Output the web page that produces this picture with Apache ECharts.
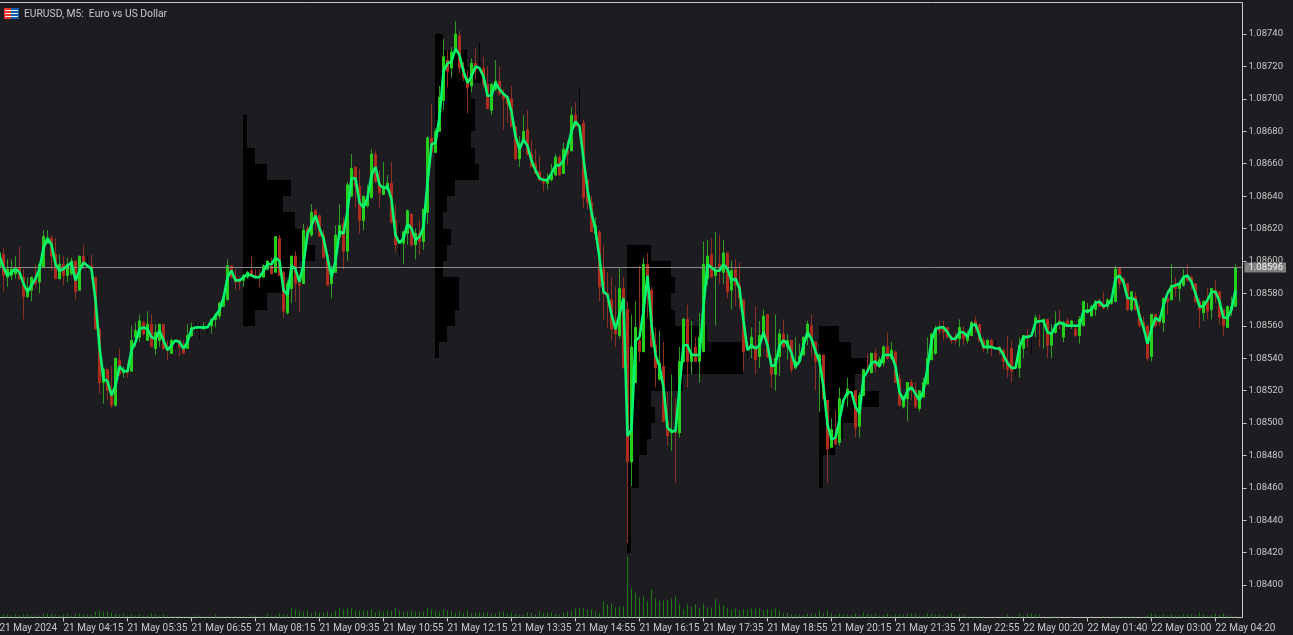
<!DOCTYPE html>
<html><head><meta charset="utf-8">
<style>html,body{margin:0;padding:0;background:#1c1c21;overflow:hidden}#c{width:1293px;height:635px}</style>
<script src="https://cdn.jsdelivr.net/npm/echarts@6/dist/echarts.min.js"></script>
</head><body><div id="c"></div><script>
// prices are stored as points above 1.00000 ; each row is [open, close, high, low]
const ohlc = [
[8596,8605,8606,8594],
[8604,8591,8608,8581],[8590,8595,8601,8584],[8591,8595,8601,8588],[8592,8595,8603,8589],[8596,8589,8609,8588],[8590,8578,8595,8564],[8578,8583,8590,8577],[8582,8590,8590,8575],[8589,8586,8598,8583],[8587,8598,8599,8580],
[8596,8615,8619,8596],[8611,8614,8619,8611],[8614,8603,8616,8594],[8604,8589,8614,8589],[8589,8598,8604,8589],[8598,8591,8603,8585],[8591,8598,8602,8587],[8592,8600,8602,8591],[8600,8581,8600,8576],[8582,8603,8603,8582],
[8603,8598,8610,8595],[8597,8597,8603,8594],[8597,8595,8604,8589],[8590,8558,8590,8558],[8558,8525,8558,8518],[8525,8533,8534,8512],[8533,8520,8533,8514],[8520,8511,8535,8509],[8511,8540,8540,8510],[8539,8530,8546,8529],
[8531,8533,8535,8528],[8532,8531,8537,8528],[8532,8551,8560,8532],[8553,8557,8562,8547],[8553,8563,8567,8550],[8562,8555,8563,8554],[8551,8561,8569,8551],[8561,8547,8567,8547],[8546,8556,8561,8542],[8551,8561,8561,8547],
[8561,8546,8561,8545],[8547,8545,8551,8539],[8543,8551,8552,8543],[8549,8549,8554,8546],[8551,8547,8551,8541],[8546,8543,8551,8543],[8546,8554,8561,8546],[8554,8559,8562,8553],[8559,8559,8562,8556],[8559,8559,8562,8552],
[8558,8559,8562,8558],[8559,8559,8560,8555],[8560,8564,8564,8555],[8564,8567,8568,8559],[8566,8574,8575,8564],[8572,8578,8578,8572],[8576,8597,8601,8576],[8597,8590,8597,8590],[8590,8587,8595,8582],[8588,8587,8590,8582],
[8588,8591,8592,8584],[8590,8593,8594,8589],[8594,8591,8603,8590],[8591,8590,8595,8590],[8591,8590,8595,8584],[8590,8597,8598,8590],[8595,8600,8600,8594],[8597,8592,8602,8592],[8593,8615,8615,8593],[8614,8591,8616,8591],
[8593,8569,8594,8565],[8568,8586,8588,8567],[8583,8603,8603,8574],[8603,8586,8606,8575],[8586,8585,8592,8568],[8586,8619,8623,8586],[8620,8614,8622,8614],[8616,8630,8635,8615],[8631,8624,8632,8619],[8628,8615,8628,8615],
[8616,8602,8619,8602],[8604,8585,8604,8585],[8586,8595,8597,8577],[8593,8616,8622,8593],[8615,8622,8635,8615],[8623,8606,8627,8595],[8606,8647,8649,8600],[8640,8657,8666,8640],[8658,8646,8658,8633],[8646,8625,8657,8617],
[8625,8640,8640,8619],[8634,8640,8647,8633],[8639,8666,8669,8639],[8666,8649,8668,8648],[8648,8642,8656,8633],[8641,8645,8661,8641],[8644,8648,8653,8644],[8648,8624,8661,8623],[8625,8610,8635,8605],[8613,8613,8623,8603],
[8611,8618,8618,8598],[8617,8631,8632,8610],[8629,8610,8629,8609],[8610,8617,8620,8601],[8617,8612,8625,8604],[8612,8632,8632,8607],[8630,8676,8677,8623],[8676,8667,8697,8667],[8667,8680,8682,8667],[8680,8701,8708,8680],
[8699,8726,8737,8693],[8724,8717,8730,8707],[8719,8729,8732,8713],[8729,8740,8748,8729],[8739,8719,8742,8716],[8719,8713,8723,8711],[8711,8707,8718,8691],[8708,8722,8725,8704],[8722,8718,8731,8712],[8722,8722,8735,8720],
[8719,8709,8726,8707],[8709,8694,8720,8694],[8693,8709,8710,8690],[8706,8711,8724,8705],[8711,8703,8720,8702],[8703,8700,8706,8681],[8701,8697,8702,8685],[8700,8683,8708,8683],[8683,8663,8683,8662],[8663,8672,8677,8658],
[8673,8680,8690,8673],[8681,8666,8693,8665],[8666,8658,8675,8658],[8660,8654,8669,8654],[8655,8650,8665,8649],[8650,8648,8652,8643],[8648,8650,8654,8644],[8650,8653,8660,8649],[8653,8664,8666,8653],[8664,8653,8665,8653],
[8654,8669,8673,8654],[8668,8666,8674,8659],[8668,8690,8695,8668],[8690,8683,8698,8683],[8686,8686,8706,8685],[8685,8639,8687,8633],[8650,8636,8650,8632],[8636,8618,8640,8618],[8617,8622,8627,8613],[8618,8584,8619,8575],
[8595,8580,8610,8564],[8580,8578,8593,8559],[8576,8558,8590,8551],[8559,8555,8584,8547],[8554,8583,8596,8552],[8583,8534,8590,8534],[8570,8476,8575,8426],[8476,8547,8567,8461],[8525,8559,8575,8525],[8551,8544,8597,8538],
[8544,8598,8602,8544],[8598,8581,8605,8565],[8582,8547,8584,8547],[8548,8534,8559,8522],[8527,8537,8557,8526],[8535,8501,8550,8501],[8501,8492,8519,8486],[8494,8495,8530,8483],[8495,8494,8515,8463],[8494,8538,8547,8491],
[8538,8564,8565,8537],[8564,8538,8573,8522],[8538,8543,8563,8530],[8547,8538,8553,8538],[8538,8553,8568,8525],[8544,8598,8612,8544],[8589,8603,8613,8585],[8604,8590,8614,8590],[8591,8594,8618,8560],[8598,8594,8616,8586],
[8593,8605,8613,8586],[8605,8581,8605,8577],[8582,8594,8600,8570],[8595,8585,8601,8572],[8585,8577,8599,8570],[8576,8544,8576,8532],[8545,8545,8549,8540],[8546,8553,8559,8540],[8546,8539,8572,8530],[8541,8554,8563,8534],
[8553,8566,8570,8553],[8567,8541,8567,8540],[8535,8530,8541,8522],[8530,8540,8567,8520],[8541,8555,8558,8529],[8555,8547,8564,8547],[8547,8551,8555,8539],[8551,8533,8551,8531],[8534,8538,8553,8533],[8538,8541,8549,8538],
[8542,8553,8553,8542],[8553,8561,8563,8548],[8560,8553,8567,8541],[8550,8538,8550,8520],[8538,8542,8543,8507],[8542,8515,8542,8515],[8514,8484,8514,8463],[8485,8496,8503,8485],[8491,8487,8508,8487],[8488,8515,8522,8486],
[8510,8510,8516,8502],[8517,8521,8528,8510],[8521,8521,8533,8518],[8520,8497,8520,8491],[8498,8517,8519,8491],[8517,8533,8533,8517],[8533,8532,8543,8532],[8531,8543,8543,8531],[8543,8535,8546,8531],[8535,8539,8541,8534],
[8537,8547,8548,8535],[8547,8540,8556,8539],[8540,8545,8550,8539],[8544,8525,8544,8525],[8527,8511,8530,8511],[8510,8515,8517,8509],[8515,8525,8525,8501],[8525,8520,8527,8514],[8520,8510,8525,8509],[8509,8520,8520,8507],
[8516,8525,8528,8516],[8524,8540,8553,8524],[8539,8555,8555,8539],[8543,8558,8560,8542],[8559,8557,8563,8555],[8558,8556,8563,8551],[8559,8553,8559,8552],[8553,8551,8554,8549],[8553,8551,8556,8549],[8552,8559,8564,8547],
[8556,8552,8560,8548],[8551,8555,8557,8549],[8554,8562,8563,8554],[8563,8560,8566,8556],[8561,8551,8561,8550],[8551,8546,8553,8544],[8546,8551,8552,8543],[8551,8546,8552,8541],[8547,8547,8551,8544],[8547,8545,8547,8542],
[8545,8538,8546,8533],[8538,8533,8554,8528],[8546,8532,8551,8525],[8533,8533,8535,8529],[8534,8548,8553,8528],[8546,8554,8554,8540],[8554,8553,8558,8547],[8554,8554,8554,8543],[8562,8565,8567,8553],[8563,8562,8567,8547],
[8562,8564,8564,8546],[8564,8548,8564,8540],[8548,8556,8561,8540],[8556,8561,8569,8555],[8563,8561,8570,8558],[8553,8562,8563,8550],[8563,8560,8565,8559],[8560,8563,8563,8558],[8558,8554,8561,8553],[8554,8564,8566,8549],
[8560,8575,8575,8560],[8568,8570,8574,8568],[8566,8572,8573,8566],[8570,8575,8576,8566],[8575,8572,8577,8572],[8573,8571,8581,8570],[8572,8576,8577,8570],[8574,8576,8578,8573],[8575,8595,8597,8575],[8596,8586,8596,8583],
[8589,8586,8590,8585],[8586,8570,8586,8569],[8570,8581,8581,8569],[8578,8570,8581,8569],[8567,8560,8573,8559],[8562,8558,8566,8558],[8560,8540,8560,8538],[8541,8567,8567,8538],[8567,8560,8567,8559],[8565,8562,8565,8560],
[8562,8577,8577,8556],[8577,8575,8582,8567],[8576,8585,8598,8576],[8586,8583,8590,8578],[8583,8586,8586,8575],[8585,8590,8595,8584],[8591,8588,8598,8588],[8590,8586,8591,8582],[8586,8575,8586,8574],[8575,8570,8577,8559],
[8568,8575,8576,8563],[8575,8569,8583,8564],[8570,8583,8583,8564],[8582,8579,8588,8574],[8581,8565,8581,8561],[8570,8560,8570,8554],[8559,8572,8572,8559],[8570,8572,8578,8566],[8572,8596,8598,8572]
];
const smoothed = [
8603,
8596,8591,8593,8595,8593,8586,8581,8585,8589,8595,
8608,8614,8610,8598,8594,8595,8597,8599,8588,8594,
8599,8597,8595,8576,8547,8527,8526,8517,8523,8535,
8532,8532,8545,8550,8558,8559,8558,8553,8552,8557,
8551,8545,8548,8551,8550,8546,8550,8558,8559,8559,
8559,8559,8563,8566,8570,8577,8590,8594,8588,8588,
8590,8592,8591,8590,8590,8594,8598,8598,8602,8600,
8582,8579,8597,8595,8587,8598,8617,8622,8628,8620,
8614,8602,8590,8600,8618,8617,8631,8651,8651,8636,
8633,8639,8653,8658,8647,8645,8646,8638,8616,8611,
8614,8623,8620,8613,8615,8621,8648,8672,8673,8689,
8717,8722,8723,8731,8727,8717,8710,8714,8720,8719,
8714,8702,8702,8710,8706,8703,8701,8692,8677,8669,
8675,8671,8662,8656,8651,8650,8650,8654,8659,8659,
8662,8670,8680,8686,8683,8663,8644,8630,8619,8602,
8581,8579,8567,8558,8567,8577,8492,8496,8551,8553,
8569,8591,8561,8542,8535,8522,8497,8495,8495,8522,
8548,8548,8542,8542,8542,8572,8598,8596,8594,8594,
8598,8595,8588,8589,8583,8563,8545,8548,8546,8548,
8556,8548,8535,8536,8548,8551,8549,8543,8535,8538,
8548,8556,8552,8544,8538,8522,8499,8490,8491,8502,
8514,8519,8519,8510,8506,8528,8532,8537,8538,8535,
8542,8542,8542,8535,8519,8514,8520,8522,8518,8514,
8520,8534,8551,8558,8559,8559,8556,8552,8552,8556,
8556,8553,8560,8561,8554,8547,8547,8547,8546,8546,
8542,8537,8534,8534,8547,8553,8553,8554,8562,8563,
8563,8556,8555,8560,8562,8561,8560,8560,8560,8560,
8569,8569,8570,8574,8575,8572,8573,8576,8589,8591,
8587,8577,8577,8576,8566,8559,8549,8558,8565,8563,
8573,8580,8584,8585,8586,8590,8591,8587,8580,8572,
8572,8576,8581,8581,8575,8565,8565,8570,8582
];
const tickVolume = [
3,
3,3,2,3,2,3,3,2,2,2,4,4,4,3,2,3,4,2,4,4,
3,3,3,6,7,6,6,5,4,3,4,2,3,2,3,2,2,4,3,2,
3,2,2,1,2,1,1,1,2,2,1,1,1,3,2,1,2,1,2,1,2,1,2,2,1,
1,4,2,2,4,3,3,10,8,7,6,7,4,6,5,5,6,5,7,10,8,9,9,7,7,7,7,8,5,7,6,7,7,10,7,6,6,7,6,6,6,10,8,7,6,8,7,7,5,6,4,7,4,5,5,5,5,4,4,6,
6,4,5,4,3,3,5,5,3,6,4,5,5,4,3,5,6,7,9,10,9,8,8,6,4,16,13,14,10,11,11,
61,30,25,20,21,16,28,19,17,17,17,19,21,14,8,13,11,13,9,14,10,10,19,14,12,9,8,9,7,8,8,9,9,9,7,8,8,9,7,4,5,3,3,3,3,4,4,4,7,4,7,4,3,4,3,3,3,4,2,5,4,3,4,2,3,4,2,3,
3,3,4,4,4,2,2,4,4,3,3,2,2,4,2,3,3,1,1,1,1,2,0,1,1,0,1,3,1,1,4,2,4,4,3,3,1,0,1,2,1,0,0,1,0,0,0,1,2,0,0,2,1,0,2,1,1,1,1,1,0,1,2,4,3,2,3,2,3,2,2,3,3,3,2,5,3,2,3,4,3,4,2,2,2
];
// one market profile per session: first bar, top price level, bar count per 10-point level
const profileFirstBar = [61, 109, 157, 205];
const profileTopLevel = [8690, 8740, 8610, 8560];
const profileCounts = [
 [1,1,3,6,12,10,13,15,18,14,10,6,3],
 [2,8,12,9,10,10,9,10,11,5,3,2,4,3,2,6,6,5,3,1],
 [6,11,12,11,12,20,29,29,14,6,7,6,5,3,3,1,1,1,1],
 [5,8,12,9,15,9,6,4,1,1]
];
const tickLabels = ['21 May 2024','21 May 04:15','21 May 05:35','21 May 06:55','21 May 08:15','21 May 09:35','21 May 10:55','21 May 12:15','21 May 13:35','21 May 14:55','21 May 16:15','21 May 17:35','21 May 18:55','21 May 20:15','21 May 21:35','21 May 22:55','22 May 00:20','22 May 01:40','22 May 03:00','22 May 04:20'];
const lastPrice = 1.08596;
const title = 'EURUSD, M5:  Euro vs US Dollar';

const price = v => +(1 + v / 1e5).toFixed(5);
const slots = 311;
const categories = Array.from({length: slots}, (_, n) => n % 16 === 0 && tickLabels[n / 16] ? tickLabels[n / 16] : '');
const UP = '#26d01a', DOWN = '#ae2d1d', UPW = '#2f9a24', DOWNW = '#8c3022';
const dojiStyle = {color:'#000',color0:'#000',borderColor:'#000',borderColor0:'#000',borderColorDoji:'#000'};
const wicks = ohlc.map(r => {
  const value = [price(r[0]), price(r[1]), price(r[3]), price(r[2])];
  return r[0] === r[1] ? {value, itemStyle: dojiStyle} : value;
});
const bodies = ohlc.map(r => {
  const hi = Math.max(r[0], r[1]), lo = Math.min(r[0], r[1]);
  const value = [price(r[0]), price(r[1]), price(lo), price(hi)];
  return r[0] === r[1] ? {value, itemStyle: dojiStyle} : value;
});
const profileRows = [];
profileCounts.forEach((counts, p) => counts.forEach((c, k) => {
  profileRows.push([profileFirstBar[p], price(profileTopLevel[p] - 10 * k), price(profileTopLevel[p] - 10 * (k + 1)), c]);
}));

const FONT = 'Roboto,sans-serif';
const chart = echarts.init(document.getElementById('c'), null, {renderer:'canvas', width:1293, height:635});
chart.setOption({
  animation:false,
  backgroundColor:'#1c1c21',
  title:{text:title, left:19, top:4, textStyle:{color:'#c8c8c8', fontSize:10.3, fontWeight:'normal', fontFamily:FONT}},
  graphic:[
    {type:'line', silent:true, shape:{x1:0,y1:2.5,x2:1242,y2:2.5}, style:{stroke:'#c8c8c8',lineWidth:1}},
    {type:'rect', silent:true, shape:{x:4,y:8,width:7,height:11}, style:{fill:'#e8352a'}},
    {type:'rect', silent:true, shape:{x:11,y:8,width:8,height:11}, style:{fill:'#0a5cb0'}},
    {type:'rect', silent:true, shape:{x:5,y:10,width:13,height:1}, style:{fill:'#f2f2f2'}},
    {type:'rect', silent:true, shape:{x:5,y:13,width:13,height:1}, style:{fill:'#f2f2f2'}},
    {type:'rect', silent:true, shape:{x:5,y:16,width:13,height:1}, style:{fill:'#f2f2f2'}}
  ],
  grid:{left:-2.5, top:2.5, width:1244, height:615, outerBoundsMode:'none'},
  xAxis:{type:'category', data:categories, boundaryGap:true,
    axisLine:{lineStyle:{color:'#c8c8c8',width:1}},
    axisTick:{show:true, alignWithLabel:true, interval:15, length:4, lineStyle:{color:'#c8c8c8'}},
    axisLabel:{interval:15, align:'left', margin:6, color:'#c8c8c8', fontSize:10, fontFamily:FONT},
    splitLine:{show:false}},
  yAxis:[
    {type:'value', position:'right', offset:1, min:1.0838, max:1.087595, interval:0.0002,
     axisLine:{show:true, lineStyle:{color:'#c8c8c8',width:1}},
     axisTick:{show:true, length:4, lineStyle:{color:'#c8c8c8'}},
     axisLabel:{showMinLabel:false, showMaxLabel:false, margin:6, padding:[5,0,0,0], color:'#c8c8c8', fontSize:9.5, fontFamily:FONT, formatter:v => v.toFixed(5)},
     splitLine:{show:false}},
    {type:'value', show:false, min:0, max:615, splitLine:{show:false}}
  ],
  series:[
    {type:'custom', name:'Profile', z:1, silent:true, data:profileRows, encode:{x:0,y:[1,2]},
     renderItem:(params, api) => {
       const a = api.coord([api.value(0), api.value(1)]);
       const b = api.coord([api.value(0) + api.value(3), api.value(2)]);
       const x0 = Math.floor(a[0]), x1 = Math.floor(b[0]), y0 = Math.round(a[1]), y1 = Math.round(b[1]);
       return {type:'rect', shape:{x:x0, y:y0, width:x1 - x0, height:y1 - y0}, style:{fill:'#000'}};
     }},
    {type:'line', name:'Last price', z:2, silent:true, data:[], 
     markLine:{silent:true, symbol:'none', animation:false, precision:5,
       lineStyle:{color:'#8c8c8c', type:'solid', width:1},
       label:{position:'end', distance:3, formatter:lastPrice.toFixed(5), color:'#efefef', backgroundColor:'#808080', padding:[0,3,0,4], lineHeight:10, fontSize:9.5, fontFamily:FONT},
       data:[{yAxis:lastPrice}]}},
    {type:'bar', name:'Volume', yAxisIndex:1, z:2, barWidth:1, silent:true, data:tickVolume, itemStyle:{color:'#1b7d12'}},
    {type:'candlestick', name:'Wicks', z:3, barWidth:0, silent:true, data:wicks,
     itemStyle:{color:UPW,color0:DOWNW,borderColor:UPW,borderColor0:DOWNW,borderWidth:1}},
    {type:'candlestick', name:'EURUSD', z:4, barWidth:2, silent:true, data:bodies,
     itemStyle:{color:UP,color0:DOWN,borderColor:UP,borderColor0:DOWN,borderWidth:1}},
    {type:'line', name:'Smoothed', z:5, silent:true, data:smoothed.map(price), symbol:'none', smooth:false,
     lineStyle:{color:'#06f56e', width:2.6}}
  ]
});
</script></body></html>
